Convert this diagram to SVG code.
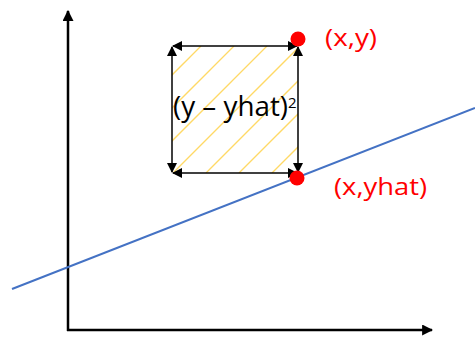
<svg xmlns="http://www.w3.org/2000/svg" width="475" height="338" viewBox="0 0 475 338">
<defs>
<marker id="ah" viewBox="0 0 10 10" refX="9" refY="5" markerWidth="10" markerHeight="10" markerUnits="userSpaceOnUse" orient="auto-start-reverse"><path d="M0,0 L10,5 L0,10 z" fill="#000"/></marker>
<marker id="ax" viewBox="0 0 10 10" refX="9" refY="5" markerWidth="11" markerHeight="11" markerUnits="userSpaceOnUse" orient="auto"><path d="M0,0 L10,5 L0,10 z" fill="#000"/></marker>
<clipPath id="sq"><rect x="172" y="46" width="126" height="127"/></clipPath>
</defs>
<style>
.ax{stroke:#000;stroke-width:2.5;fill:none}
.side{stroke:#000;stroke-width:1.5;fill:none}
.hatch{stroke:#FFD966;stroke-width:1.3;fill:none}
.lbl{font-family:"Open Sans","Liberation Sans",sans-serif;fill:#FF0000;font-size:23px}
.sq{font-family:"Open Sans","Liberation Sans",sans-serif;fill:#000;font-size:27px}
.sup{font-family:"Open Sans","Liberation Sans",sans-serif;fill:#000;font-size:15px}
</style>
<g id="connectors">
<line class="ax" x1="68" y1="331" x2="68" y2="11" marker-end="url(#ax)"/>
<line class="ax" x1="67" y1="330" x2="432" y2="330" marker-end="url(#ax)"/>
<line x1="12" y1="289" x2="475" y2="108" stroke="#4472C4" stroke-width="2"/>
</g>
<g id="square">
<g clip-path="url(#sq)" class="hatch">
<line x1="74" y1="173" x2="201" y2="46"/>
<line x1="107" y1="173" x2="234" y2="46"/>
<line x1="140" y1="173" x2="267" y2="46"/>
<line x1="173" y1="173" x2="300" y2="46"/>
<line x1="206" y1="173" x2="333" y2="46"/>
<line x1="239" y1="173" x2="366" y2="46"/>
<line x1="272" y1="173" x2="399" y2="46"/>
</g>
<line class="side" x1="173" y1="46" x2="297" y2="46" marker-start="url(#ah)" marker-end="url(#ah)"/>
<line class="side" x1="173" y1="173" x2="297" y2="173" marker-start="url(#ah)" marker-end="url(#ah)"/>
<line class="side" x1="172" y1="47" x2="172" y2="172" marker-start="url(#ah)" marker-end="url(#ah)"/>
<line class="side" x1="298" y1="47" x2="298" y2="172" marker-start="url(#ah)" marker-end="url(#ah)"/>
<text class="sq" x="173" y="116" textLength="115" lengthAdjust="spacingAndGlyphs">(y – yhat)</text>
<text class="sup" x="288" y="108">2</text>
</g>
<g id="point-y">
<circle cx="298" cy="39" r="7.5" fill="#FF0000"/>
<text class="lbl" x="325" y="46" textLength="52" lengthAdjust="spacingAndGlyphs">(x,y)</text>
</g>
<g id="point-yhat">
<circle cx="297" cy="178" r="7.5" fill="#FF0000"/>
<text class="lbl" x="334" y="195" textLength="93" lengthAdjust="spacingAndGlyphs">(x,yhat)</text>
</g>
</svg>
